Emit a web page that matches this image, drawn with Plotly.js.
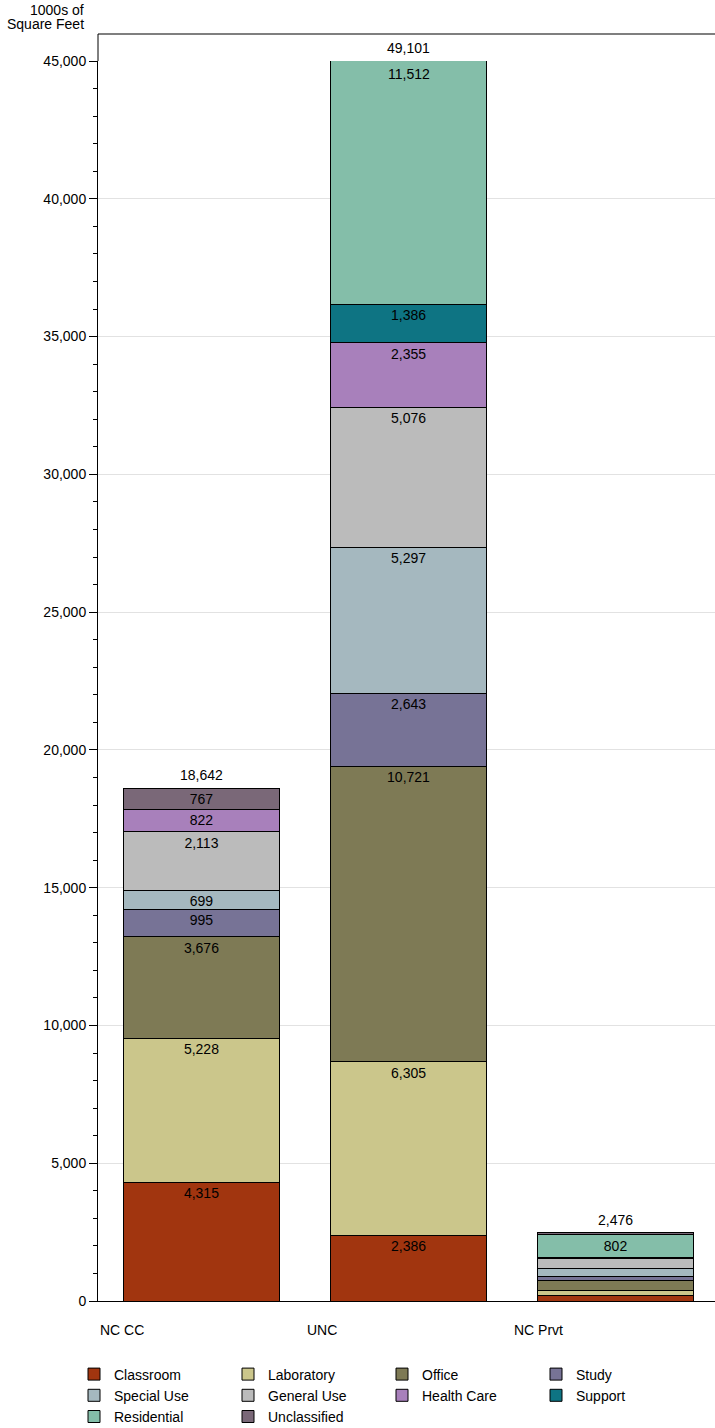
<!DOCTYPE html>
<html>
<head>
<meta charset="utf-8">
<script src="https://cdn.plot.ly/plotly-3.0.1.min.js"></script>
<style>
html, body { margin: 0; padding: 0; background: #fff; }
#chart { width: 715px; height: 1428px; }
</style>
</head>
<body>
<div id="chart"></div>
<script>
// ---- data (1000s of square feet) ----
const categories   = ['NC CC', 'UNC', 'NC Prvt'];
const totals       = [18642, 49101, 2476];
const classroom    = [4315, 2386, 215];
const laboratory   = [5228, 6305, 165];
const office       = [3676, 10721, 380];
const study        = [995, 2643, 120];
const specialUse   = [699, 5297, 295];
const generalUse   = [2113, 5076, 380];
const healthCare   = [822, 2355, 40];
const support      = [null, 1386, null];
const residential  = [null, 11512, 802];
const unclassified = [767, null, 75];
const seriesNames  = ['Classroom', 'Laboratory', 'Office', 'Study', 'Special Use',
                      'General Use', 'Health Care', 'Support', 'Residential', 'Unclassified'];
const yTitleLines  = ['1000s of', 'Square Feet'];

// ---- styling ----
const seriesValues = [classroom, laboratory, office, study, specialUse,
                      generalUse, healthCare, support, residential, unclassified];
const seriesColors = ['#a1350f', '#cbc68b', '#7e7a55', '#777396', '#a5b8bf',
                      '#bbbbbb', '#a880bb', '#0e7483', '#84bea9', '#7a6878'];
const FONT = 'Liberation Sans, Arial, Helvetica, sans-serif';
const Y_MAX = 45000;
const LABEL_MIN = 500;
const fmt = v => v.toLocaleString('en-US');

// plot-area geometry (px) used for paper-coordinate helpers
const W = 715, H = 1428, ML = 98, MR = 0, MT = 61, MB = 127;
const PW = W - ML - MR, PH = H - MT - MB;
const px = x => (x - ML) / PW;
const py = y => (H - MB - y) / PH;

const annotations = [];
const cum = categories.map(() => 0);
const traces = seriesNames.map((name, i) => {
  const vals = seriesValues[i];
  const text = vals.map((v, j) => {
    if (v == null) return '';
    const base = cum[j], top = base + v;
    cum[j] = top;
    if (v < LABEL_MIN) return '';
    if (top > Y_MAX && base < Y_MAX) {
      // segment runs past the axis top: label it just under the clipped edge
      annotations.push({
        x: j, y: Y_MAX, xref: 'x', yref: 'y', text: fmt(v), showarrow: false,
        yanchor: 'top', yshift: -3, font: { family: FONT, size: 14, color: '#000' }
      });
      return '';
    }
    return fmt(v);
  });
  return {
    type: 'bar', name: name, x: categories, y: vals,
    marker: { color: seriesColors[i], line: { color: '#000', width: 1 } },
    text: text, textposition: 'inside', insidetextanchor: 'end', textangle: 0,
    constraintext: 'none',
    textfont: { family: FONT, size: 14, color: '#000' },
    hoverinfo: 'name+y'
  };
});

// totals above each stack
totals.forEach((t, j) => {
  annotations.push({
    x: j, y: Math.min(cum[j], Y_MAX), xref: 'x', yref: 'y', text: fmt(t),
    showarrow: false, yanchor: 'bottom', yshift: 3,
    font: { family: FONT, size: 14, color: '#000' }
  });
});

// category labels, left-aligned at each category slot
categories.forEach((c, j) => {
  annotations.push({
    x: j - 0.5, y: py(1330), xref: 'x', yref: 'paper', text: c, showarrow: false,
    xanchor: 'left', yanchor: 'middle', font: { family: FONT, size: 14, color: '#000' }
  });
});

// y-axis title (two tight lines, right aligned)
yTitleLines.forEach((t, k) => {
  annotations.push({
    x: px(86), y: py(10 + k * 14), xref: 'paper', yref: 'paper', text: t,
    showarrow: false, xanchor: 'right', yanchor: 'middle',
    font: { family: FONT, size: 14, color: '#000' }
  });
});

const frameTop = py(34);
const layout = {
  width: W, height: H,
  margin: { l: ML, r: MR, t: MT, b: MB, pad: 0 },
  paper_bgcolor: '#fff', plot_bgcolor: '#fff',
  font: { family: FONT, size: 14, color: '#000' },
  barmode: 'stack', bargap: 0.246,
  uniformtext: { minsize: 14, mode: 'show' },
  xaxis: {
    type: 'category', range: [-0.5, 2.48], showticklabels: false, ticks: '',
    showline: true, linecolor: '#000', linewidth: 1, showgrid: false,
    zeroline: false, automargin: false, fixedrange: true
  },
  yaxis: {
    range: [0, Y_MAX], tick0: 0, dtick: 5000, tickformat: ',d',
    ticks: 'outside', ticklen: 8, tickwidth: 1, tickcolor: '#000',
    tickfont: { family: FONT, size: 14, color: '#000' },
    showline: true, linecolor: '#000', linewidth: 1,
    showgrid: true, gridcolor: '#e2e2e2', gridwidth: 1, zeroline: false,
    minor: { dtick: 1000, ticks: 'outside', ticklen: 4, tickwidth: 1, tickcolor: '#000', showgrid: false },
    automargin: false, fixedrange: true
  },
  shapes: [
    { type: 'line', xref: 'paper', yref: 'paper', x0: 0, x1: 0, y0: 1, y1: frameTop,
      line: { color: '#000', width: 1 } },
    { type: 'line', xref: 'paper', yref: 'paper', x0: 0, x1: 1, y0: frameTop, y1: frameTop,
      line: { color: '#000', width: 1.2 } }
  ],
  annotations: annotations,
  showlegend: true,
  legend: {
    orientation: 'h', traceorder: 'normal',
    xref: 'container', yref: 'container',
    x: 74 / W, xanchor: 'left', y: (H - 1358.5) / H, yanchor: 'top',
    entrywidth: 109, entrywidthmode: 'pixels',
    font: { family: FONT, size: 14, color: '#000' },
    bgcolor: 'rgba(0,0,0,0)', borderwidth: 0, itemclick: false, itemdoubleclick: false
  }
};

Plotly.newPlot('chart', traces, layout, { displayModeBar: false, staticPlot: true });
</script>
</body>
</html>
